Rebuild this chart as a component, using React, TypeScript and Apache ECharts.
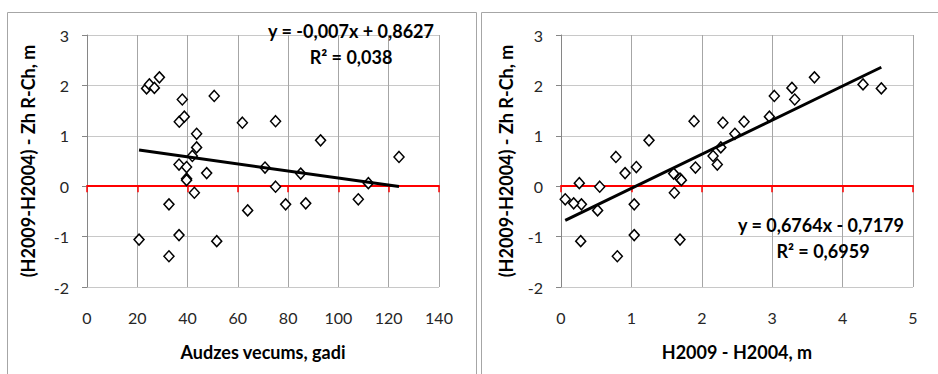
import React, { useEffect, useRef } from "react";
import * as echarts from "echarts";

// Shared Y values: (H2009-H2004) - Zh R-Ch, m
const yDiff = [
  -1.06, 1.94, 2.02, 1.95, 2.16, -0.36, -1.39, -0.97, 1.28, 0.43, 1.72, 1.38,
  0.38, 0.15, 0.12, 0.6, -0.13, 1.04, 0.77, 0.26, 1.79, -1.09, 1.26, -0.48,
  0.37, 1.29, -0.01, -0.36, 0.25, -0.34, 0.91, -0.26, 0.06, 0.58,
];
// Left panel X: stand age, years
const standAge = [
  20.7, 23.7, 24.8, 26.8, 28.8, 32.6, 32.6, 36.6, 36.7, 36.6, 37.9, 38.7,
  39.6, 39.6, 39.6, 41.9, 42.7, 43.6, 43.6, 47.6, 50.6, 51.6, 61.8, 63.9,
  70.8, 75.0, 75.0, 79.0, 85.0, 87.0, 92.9, 107.9, 111.9, 124.1,
];
// Right panel X: H2009 - H2004, m
const heightDiff = [
  1.69, 4.55, 4.29, 3.28, 3.6, 1.04, 0.8, 1.04, 2.6, 2.22, 3.32, 2.96,
  1.07, 1.69, 1.71, 2.16, 1.61, 2.47, 2.27, 0.91, 3.03, 0.28, 2.3, 0.52,
  1.91, 1.89, 0.55, 0.29, 1.6, 0.18, 1.25, 0.06, 0.26, 0.78,
];

const leftTrend = { slope: -0.007, intercept: 0.8627 };
const rightTrend = { slope: 0.6764, intercept: -0.7179 };
const leftEqText = ["y = -0,007x + 0,8627", "R² = 0,038"];
const rightEqText = ["y = 0,6764x - 0,7179", "R² = 0,6959"];

const leftXTitle = "Audzes vecums, gadi";
const rightXTitle = "H2009 - H2004, m";
const yTitle = "(H2009-H2004) - Zh R-Ch, m";

const FONT = "Lato, 'Open Sans', sans-serif";
const LABEL_COLOR = "#262626";

function trendLine(xs: number[], t: { slope: number; intercept: number }) {
  const lo = Math.min(...xs);
  const hi = Math.max(...xs);
  return [
    [lo, t.slope * lo + t.intercept],
    [hi, t.slope * hi + t.intercept],
  ];
}

function labelXAxis(grid: number, max: number, interval: number, name: string) {
  return {
    gridIndex: grid,
    type: "value",
    min: 0,
    max,
    interval,
    position: "bottom",
    axisLine: { show: false, onZero: false },
    axisTick: { show: false },
    axisLabel: { margin: 22, fontSize: 16, color: LABEL_COLOR, fontFamily: FONT },
    splitLine: { show: true, lineStyle: { color: "#a6a6a6", width: 1 } },
    name,
    nameLocation: "middle",
    nameGap: 56,
    nameTextStyle: { fontWeight: "bold", fontSize: 18, color: "#000", fontFamily: FONT },
  };
}

function zeroXAxis(grid: number, max: number, interval: number) {
  return {
    gridIndex: grid,
    type: "value",
    min: 0,
    max,
    interval,
    position: "bottom",
    axisLine: { show: true, onZero: true, lineStyle: { color: "#ff0000", width: 2 } },
    axisTick: { show: true, length: 6, lineStyle: { color: "#ff0000", width: 1.5 } },
    axisLabel: { show: false },
    splitLine: { show: false },
  };
}

function yAxisDef(grid: number, gap: number) {
  return {
    gridIndex: grid,
    type: "value",
    min: -2,
    max: 3,
    interval: 1,
    axisLine: { show: true, onZero: false, lineStyle: { color: "#868686", width: 1 } },
    axisTick: { show: true, length: 5, lineStyle: { color: "#868686" } },
    axisLabel: { margin: 18, fontSize: 16, color: LABEL_COLOR, fontFamily: FONT },
    splitLine: { show: true, lineStyle: { color: "#c8c8c8", width: 1 } },
    name: yTitle,
    nameLocation: "middle",
    nameGap: gap,
    nameRotate: 90,
    nameTextStyle: { fontWeight: "bold", fontSize: 18, color: "#000", fontFamily: FONT },
  };
}

function scatter(xIdx: number, yIdx: number, xs: number[]) {
  return {
    type: "scatter",
    xAxisIndex: xIdx,
    yAxisIndex: yIdx,
    symbol: "diamond",
    symbolSize: [10, 11],
    itemStyle: { color: "#ffffff", borderColor: "#000000", borderWidth: 1.5, opacity: 1 },
    data: xs.map((x, i) => [x, yDiff[i]]),
    z: 3,
  };
}

function trendSeries(xIdx: number, yIdx: number, data: number[][]) {
  return {
    type: "line",
    xAxisIndex: xIdx,
    yAxisIndex: yIdx,
    symbol: "none",
    lineStyle: { color: "#000", width: 3 },
    data,
    z: 4,
  };
}

function eqText(x: number, y: number, text: string) {
  return {
    type: "text",
    x,
    y,
    style: {
      text,
      textAlign: "center",
      textVerticalAlign: "middle",
      fontSize: 18,
      fontWeight: "bold",
      fontFamily: FONT,
      fill: "#000",
    },
    z: 10,
  };
}

export default function App() {
  const ref = useRef<HTMLDivElement>(null);
  useEffect(() => {
    if (!ref.current) return;
    const chart = echarts.init(ref.current, null, { renderer: "svg" });
    chart.setOption({
      animation: false,
      backgroundColor: "#ffffff",
      grid: [
        { left: 87, right: 938 - 439, top: 35, bottom: 374 - 287 },
        { left: 561, right: 938 - 913, top: 35, bottom: 374 - 287 },
      ],
      xAxis: [
        labelXAxis(0, 140, 20, leftXTitle),
        zeroXAxis(0, 140, 20),
        labelXAxis(1, 5, 1, rightXTitle),
        zeroXAxis(1, 5, 1),
      ],
      yAxis: [yAxisDef(0, 50), yAxisDef(1, 46)],
      series: [
        scatter(0, 0, standAge),
        trendSeries(0, 0, trendLine(standAge, leftTrend)),
        scatter(2, 1, heightDiff),
        trendSeries(2, 1, trendLine(heightDiff, rightTrend)),
      ],
      graphic: [
        {
          type: "rect",
          shape: { x: 7.5, y: 12.5, width: 469, height: 400 },
          style: { fill: "none", stroke: "#a6a6a6", lineWidth: 1 },
          silent: true,
        },
        {
          type: "rect",
          shape: { x: 481.5, y: 12.5, width: 470, height: 400 },
          style: { fill: "none", stroke: "#a6a6a6", lineWidth: 1 },
          silent: true,
        },
        eqText(351, 31, leftEqText[0]),
        eqText(351, 57, leftEqText[1]),
        eqText(821, 225, rightEqText[0]),
        eqText(823, 251, rightEqText[1]),
      ],
    });
    return () => chart.dispose();
  }, []);
  return (
    <div
      ref={ref}
      style={{ position: "absolute", left: 0, top: 0, width: 938, height: 374 }}
    />
  );
}
